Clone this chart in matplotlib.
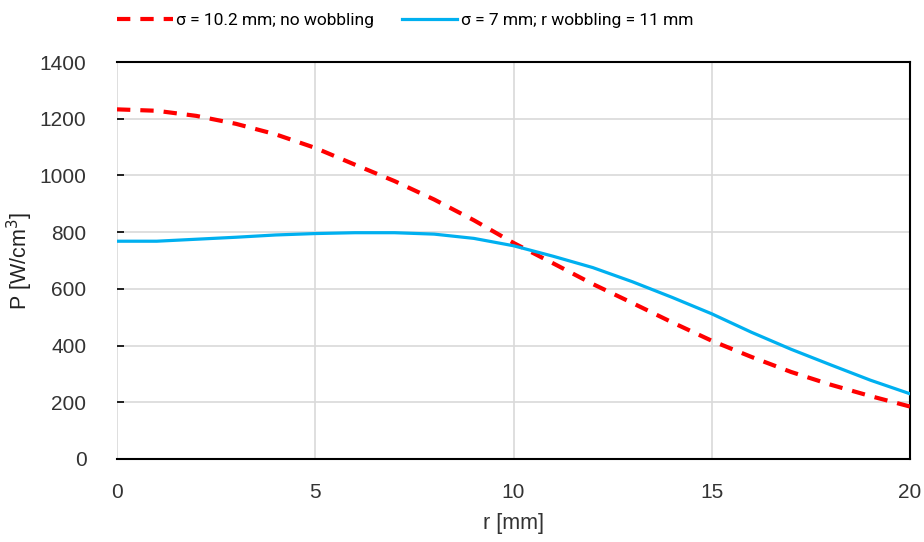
import matplotlib
matplotlib.use("Agg")
from matplotlib import pyplot as plt

plt.rcParams['font.family'] = ['Liberation Sans', 'DejaVu Sans']

# radius [mm]
r_mm = [0, 1, 2, 3, 4, 5, 6, 7, 8, 9, 10, 11, 12, 13, 14, 15, 16, 17, 18, 19, 20]
# sigma = 10.2 mm, no wobbling
p_nowobble = [1233, 1228, 1210, 1182, 1145, 1097, 1038, 980, 915, 842, 762,
              690, 617, 550, 482, 417, 360, 307, 262, 222, 185]
# sigma = 7 mm, r wobbling = 11 mm
p_wobble = [768, 768, 775, 782, 790, 795, 798, 798, 793, 778, 752,
            715, 675, 625, 570, 512, 447, 387, 332, 278, 230]

label_red = "σ = 10.2 mm; no wobbling"
label_blue = "σ = 7 mm; r wobbling = 11 mm"

fig = plt.figure(figsize=(9.24, 5.42), dpi=100)
ax = fig.add_axes([117 / 924, 1 - 459 / 542, (910 - 117) / 924, (459 - 62) / 542])

ax.plot(r_mm, p_nowobble, color='#FF0000', lw=3, ls=(0, (3.2, 2.4)),
        dash_capstyle='butt', label=label_red, zorder=3)
ax.plot(r_mm, p_wobble, color='#00B0F0', lw=2.3, label=label_blue, zorder=3)

ax.set_xlim(0, 20)
ax.set_ylim(0, 1400)
ax.set_xticks(range(0, 21, 5))
ax.set_yticks(range(0, 1401, 200))
ax.grid(True, color='#D9D9D9', lw=1.2)
ax.set_axisbelow(True)

for side in ['top', 'right', 'bottom']:
    ax.spines[side].set_color('black')
    ax.spines[side].set_linewidth(1.5)
ax.spines['left'].set_visible(False)

ax.tick_params(axis='x', length=0, pad=17, labelsize=15, labelcolor='#333333')
ax.tick_params(axis='y', direction='in', length=5, width=1.2, color='black',
               pad=22, labelsize=15, labelcolor='#333333')

ax.set_xlabel("r [mm]", fontsize=15.5, color='#333333')
ax.set_ylabel("P [W/cm$^3$]", fontsize=15.5, color='#222222')
ax.xaxis.set_label_coords(0.5, (459 - 523) / 397)
ax.xaxis.label.set_va('center')
ax.yaxis.set_label_coords((20 - 117) / 793, 0.5)
ax.yaxis.label.set_va('center')

# legend text is condensed in the original, so use a narrower face
fig.legend(loc='center left', bbox_to_anchor=(117 / 924, 1 - 20 / 542), ncol=2,
           frameon=False, handlelength=3.2, handletextpad=0.2,
           columnspacing=1.6, borderpad=0, borderaxespad=0,
           prop={'family': ['Roboto', 'Liberation Sans'], 'size': 12.5})

fig.savefig("out.png", dpi=100)
